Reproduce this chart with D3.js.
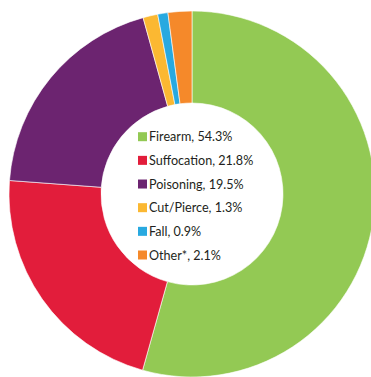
<!DOCTYPE html>
<html>
<head>
<meta charset="utf-8">
<script src="https://cdn.jsdelivr.net/npm/d3@7"></script>
<style>
  html, body { margin: 0; padding: 0; background: #fff; }
  svg { display: block; }
</style>
</head>
<body>
<svg id="chart" width="371" height="377"></svg>
<script>
// Share of deaths by mechanism
const categories = ["Firearm", "Suffocation", "Poisoning", "Cut/Pierce", "Fall", "Other*"];
const shares = [54.3, 21.8, 19.5, 1.3, 0.9, 2.1];
const colors = ["#93c954", "#e21d3b", "#6c2470", "#fbb832", "#28a9e0", "#f5892a"];

const svg = d3.select("#chart");
const cx = 192, cy = 194;
const outerR = 183, innerR = 91;

const pie = d3.pie().sort(null).value(d => d.value);
const arc = d3.arc().innerRadius(innerR).outerRadius(outerR);

const data = categories.map((c, i) => ({ label: c, value: shares[i], color: colors[i] }));

const g = svg.append("g").attr("transform", `translate(${cx},${cy})`);
g.selectAll("path")
  .data(pie(data))
  .join("path")
  .attr("d", arc)
  .attr("fill", d => d.data.color)
  .attr("stroke", "#ffffff")
  .attr("stroke-width", 0.6);

// Legend inside the hole
const legendY = d3.scalePoint()
  .domain(categories)
  .range([136.7, 255]);

const legend = svg.append("g");
const rows = legend.selectAll("g")
  .data(data)
  .join("g")
  .attr("transform", d => `translate(138,${legendY(d.label)})`);

rows.append("rect")
  .attr("x", 0).attr("y", -4.5)
  .attr("width", 9).attr("height", 9)
  .attr("fill", d => d.color);

rows.append("text")
  .attr("x", 11)
  .attr("y", 0)
  .attr("dy", "0.36em")
  .attr("font-family", "Lato, 'Open Sans', sans-serif")
  .attr("font-size", 12.6)
  .attr("fill", "#231f20")
  .text(d => `${d.label}, ${d.value.toFixed(1)}%`);
</script>
</body>
</html>
